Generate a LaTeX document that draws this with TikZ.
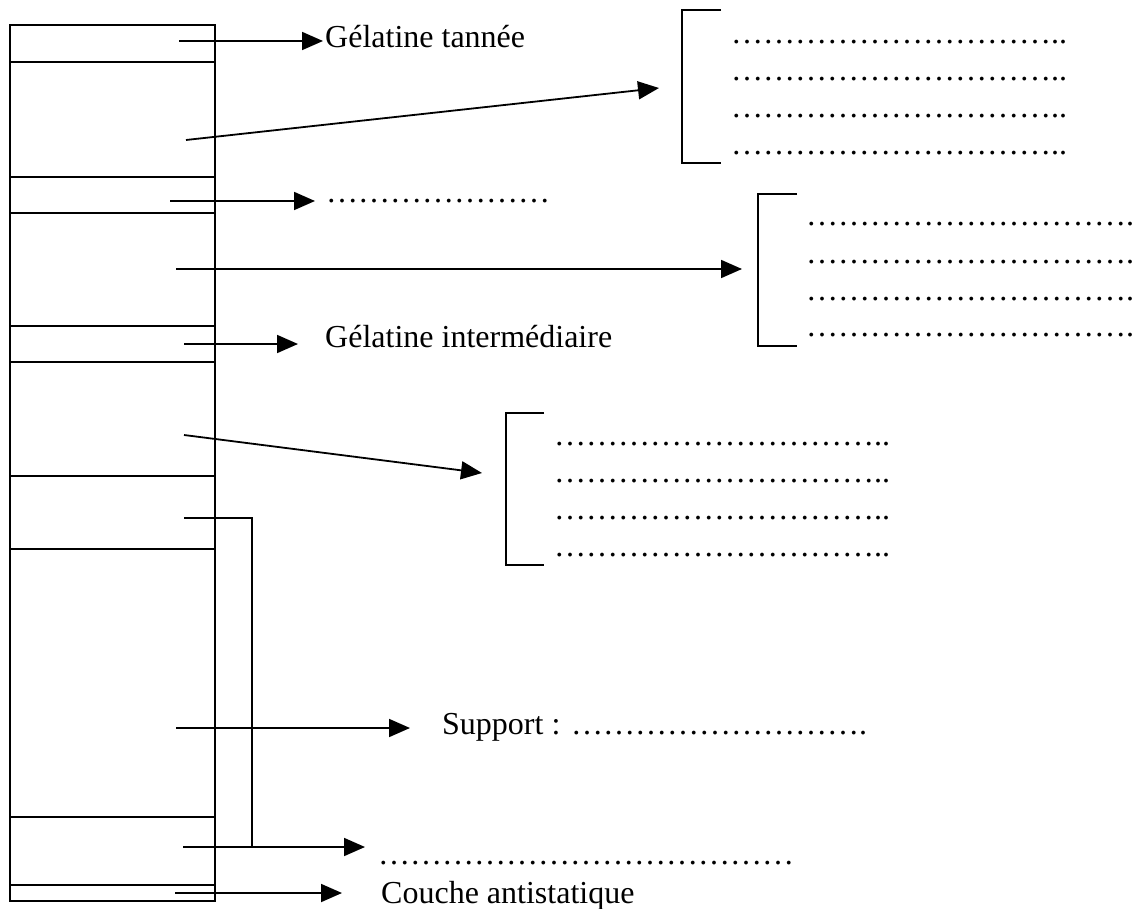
\documentclass[tikz,border=0pt]{standalone}
\usepackage{fontspec}
\setmainfont{Liberation Serif}
\usetikzlibrary{arrows.meta}
\newcommand{\pointilles}[1]{\foreach \k in {1,...,#1}{…}}

\begin{document}
\begin{tikzpicture}[x=1pt,y=-1pt,
        trait/.style={line width=1.8pt},
        fleche/.style={line width=1.8pt,-{Triangle[length=21pt,width=18pt]}},
        crochet/.style={line width=1.6pt},
        texte/.style={anchor=base west,inner sep=0pt,font=\fontsize{32}{38}\selectfont}]
    \useasboundingbox (0,0) rectangle (1137,909);
    %layers
        \draw[trait] (10,25) rectangle (215,901);
        \foreach \y in {62,177,213,326,362,476,549,817,885}
            \draw[trait] (10,\y) -- (215,\y);
    %brackets
        \draw[crochet] (721,10) -- (682,10) -- (682,163) -- (721,163);
        \draw[crochet] (797,194) -- (758,194) -- (758,346) -- (797,346);
        \draw[crochet] (544,413) -- (506,413) -- (506,565) -- (544,565);
    %nodes
        \node[texte] (tannee) at (325,48) {Gélatine tannée};
        \node[texte] (pointsA) at (326,203) {\pointilles{7}};
        \node[texte] (inter) at (325,347) {Gélatine intermédiaire};
        \node[texte] (support) at (442,734) {Support : \pointilles{9}.};
        \node[texte] (pointsB) at (378,864) {\pointilles{13}};
        \node[texte] (antistat) at (381,903) {Couche antistatique};
        \foreach \y [count=\i] in {44,81,118,155}
            \node[texte] (listeA-\i) at (731,\y) {\pointilles{10}..};
        \foreach \y [count=\i] in {226,263,300,336}
            \node[texte] (listeB-\i) at (806,\y) {\pointilles{10}.};
        \foreach \y [count=\i] in {445,482,519,556}
            \node[texte] (listeC-\i) at (554,\y) {\pointilles{10}..};
    %connectors
        \coordinate (a1) at (179,41);  \coordinate (b1) at (323,41);
        \coordinate (a2) at (186,140); \coordinate (b2) at (659,88);
        \coordinate (a3) at (170,201); \coordinate (b3) at (315,201);
        \coordinate (a4) at (176,269); \coordinate (b4) at (742,269);
        \coordinate (a5) at (184,344); \coordinate (b5) at (298,344);
        \coordinate (a6) at (184,435); \coordinate (b6) at (482,473);
        \coordinate (a7) at (184,518); \coordinate (coude) at (252,518);
        \coordinate (jonction) at (252,847);
        \coordinate (a8) at (183,847); \coordinate (b8) at (365,847);
        \coordinate (a9) at (176,728); \coordinate (b9) at (410,728);
        \coordinate (a10) at (175,893); \coordinate (b10) at (342,893);
        \draw[fleche] (a1) -- (b1);
        \draw[fleche] (a2) -- (b2);
        \draw[fleche] (a3) -- (b3);
        \draw[fleche] (a4) -- (b4);
        \draw[fleche] (a5) -- (b5);
        \draw[fleche] (a6) -- (b6);
        \draw[trait] (a7) -- (coude) -- (jonction);
        \draw[fleche] (a8) -- (b8);
        \draw[fleche] (a9) -- (b9);
        \draw[fleche] (a10) -- (b10);
\end{tikzpicture}
\end{document}
